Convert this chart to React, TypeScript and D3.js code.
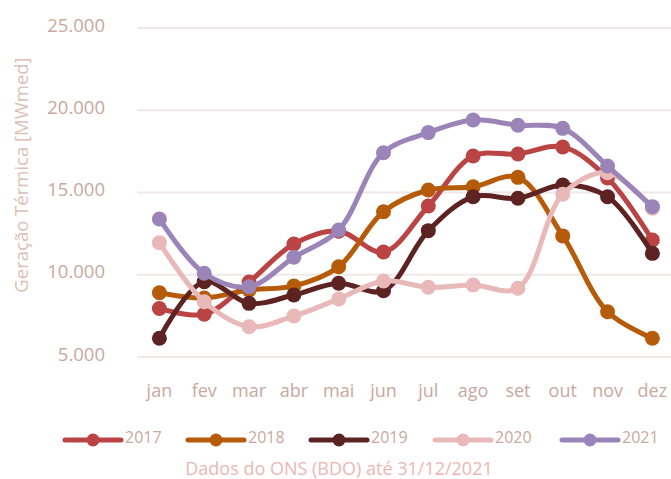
import React from "react";
import * as d3 from "d3";

const months = ["jan", "fev", "mar", "abr", "mai", "jun", "jul", "ago", "set", "out", "nov", "dez"];
const yTicks = [5000, 10000, 15000, 20000, 25000];

const s2017 = [7950, 7600, 9560, 11870, 12650, 11380, 14180, 17220, 17340, 17770, 15880, 12110];
const s2018 = [8910, 8590, 9070, 9320, 10490, 13830, 15150, 15350, 15920, 12360, 7750, 6140];
const s2019 = [6140, 9580, 8260, 8770, 9480, 9030, 12680, 14740, 14650, 15460, 14740, 11300];
const s2020 = [11950, 8360, 6840, 7490, 8530, 9620, 9240, 9380, 9180, 14890, 16200, 14050];
const s2021 = [13390, 10090, 9270, 11060, 12720, 17420, 18640, 19410, 19090, 18900, 16610, 14140];

const seriesNames = ["2017", "2018", "2019", "2020", "2021"];
const seriesData = [s2017, s2018, s2019, s2020, s2021];
const colors = ["#ba4444", "#b65b09", "#5d2222", "#e8b9b8", "#9b85b8"];

const W = 671;
const H = 479;
const textColor = "#c9a89f";
const font = "'Open Sans', sans-serif";

export default function App() {
  const x = d3.scalePoint<string>().domain(months).range([159.4, 652.4]);
  const y = d3.scaleLinear().domain([5000, 25000]).range([357, 28]);
  const line = d3
    .line<number>()
    .x((_, i) => x(months[i]) as number)
    .y((d) => y(d))
    .curve(d3.curveCatmullRom.alpha(0.5));

  const legendX = [65, 188, 311, 435, 562];

  return (
    <svg width={W} height={H} style={{ position: "absolute", left: 0, top: 0, background: "#fff" }}>
      {yTicks.map((t) => (
        <g key={t}>
          <line x1={137} x2={671} y1={y(t)} y2={y(t)} stroke="#f0e8e6" strokeWidth={2} />
          <text
            x={105}
            y={y(t) - 4}
            dominantBaseline="central"
            textAnchor="end"
            fontFamily={font}
            fontSize={18.5}
            fill={textColor}
          >
            {d3.format(",")(t).replace(",", ".")}
          </text>
        </g>
      ))}
      <text
        transform={`translate(20, 175) rotate(-90)`}
        textAnchor="middle"
        dominantBaseline="central"
        fontFamily={font}
        fontSize={18.5}
        fill="#dcc0b8"
      >
        Geração Térmica [MWmed]
      </text>
      {months.map((m) => (
        <text
          key={m}
          x={x(m)}
          y={390}
          dominantBaseline="central"
          textAnchor="middle"
          fontFamily={font}
          fontSize={18}
          fill={textColor}
        >
          {m}
        </text>
      ))}
      {seriesData.map((s, si) => (
        <g key={seriesNames[si]}>
          <path d={line(s) || ""} fill="none" stroke={colors[si]} strokeWidth={5} strokeLinejoin="round" />
          {s.map((v, i) => (
            <circle key={i} cx={x(months[i])} cy={y(v)} r={7.5} fill={colors[si]} />
          ))}
        </g>
      ))}
      {seriesNames.map((n, i) => (
        <g key={n} transform={`translate(${legendX[i]}, 440)`}>
          <line x1={0} x2={56} y1={0} y2={0} stroke={colors[i]} strokeWidth={5} strokeLinecap="round" />
          <circle cx={28} cy={0} r={6.5} fill={colors[i]} />
          <text x={60} y={-3} dominantBaseline="central" fontFamily={font} fontSize={16} fill={textColor}>
            {n}
          </text>
        </g>
      ))}
      <text
        x={339}
        y={468}
        textAnchor="middle"
        dominantBaseline="central"
        fontFamily={font}
        fontSize={18}
        fill="#ebb7b6"
      >
        Dados do ONS (BDO) até 31/12/2021
      </text>
    </svg>
  );
}
